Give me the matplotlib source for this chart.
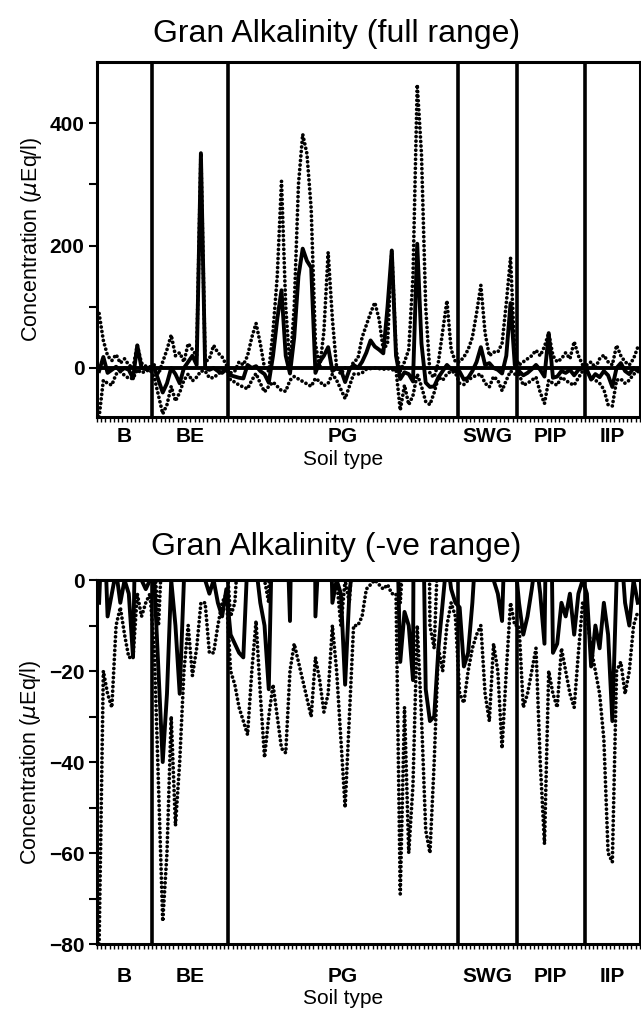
import numpy as np
import matplotlib
matplotlib.use("Agg")
import matplotlib.pyplot as plt
from matplotlib.transforms import blended_transform_factory

plt.rcParams["font.family"] = ["Liberation Sans", "DejaVu Sans"]

# Bodentypen
soil_types = ["B", "BE", "PG", "SWG", "PIP", "IIP"]

# Werte je Standort (uEq/l)
upper_B = [89, 45, 20, 12, 22, 8, 15, 5, 0, 37, 8, 3, 2]
mid_B = [-5, 18, -8, -3, 2, -5, 0, -3, -17, 37, 0, -2, 0]
lower_B = [-80, -20, -25, -28, -10, -6, -12, -17, -17, -3, -8, -5, -3]

upper_BE = [5, -10, 10, 30, 54, 20, 25, 10, 40, 30, 20, 351, 10, 15, 37, 25, 18, 5]
mid_BE = [0, -20, -40, -25, 0, -10, -25, 0, 10, 20, 5, 351, 0, -3, 0, -5, -8, -2]
lower_BE = [-15, -45, -75, -60, -30, -54, -40, -20, -10, -21, -15, -5, -5, -16, -16, -10, -5, -3]

upper_PG = [-8, -5, 10, 5, 20, 50, 73, 40, 0, -5, 60, 150, 305, 100, 0, 100, 300, 382,
            350, 260, 40, 0, 60, 189, 80, 0, -10, 0, -5, 10, 15, 50, 70, 90, 107, 80,
            30, 40, 192, 30, -5, 10, 30, 150, 463, 350, 100, -10, -15, 10, 60, 110, 30, 10]
mid_PG = [-12, -14, -16, -17, 5, 0, 3, -5, -10, -24, 20, 80, 127, 20, -9, 50, 150, 195,
          175, 164, -8, 10, 20, 34, -5, 0, -3, -23, -3, 5, 0, 10, 25, 45, 35, 30,
          24, 100, 192, 20, -18, -7, -10, -22, 203, 40, -24, -31, -30, -15, -5, 5, -2, -5]
lower_PG = [-20, -23, -28, -31, -34, -20, -9, -25, -39, -30, -23, -30, -37, -38, -20, -14, -18, -22,
            -26, -30, -17, -22, -29, -25, -10, -20, -35, -50, -30, -10, -10, -8, -2, -1, 0, -1,
            -2, -1, -3, -3, -69, -28, -60, -45, -10, -30, -55, -60, -40, -15, -20, -10, -5, -8]

upper_SWG = [10, 18, 30, 50, 90, 135, 57, 20, 26, 26, 40, 106, 180, 20]
mid_SWG = [-6, -19, -16, -5, 10, 34, 5, 8, 0, -3, -9, 20, 106, 5]
lower_SWG = [-25, -27, -20, -15, -12, -10, -25, -31, -14, -20, -37, -20, -5, -10]

upper_PIP = [5, 10, 15, 20, 29, 20, 35, 57, 20, 10, 15, 25, 15, 43, 20, 5]
mid_PIP = [-5, -12, -8, -2, 5, -3, -14, 57, -16, -14, -5, -8, -3, -12, -3, 0]
lower_PIP = [-10, -28, -25, -20, -15, -40, -58, -20, -25, -28, -15, -20, -25, -28, -16, -5]

upper_IIP = [5, 10, 0, 15, 21, 10, 5, 37, 20, 10, 5, 15, 34]
mid_IIP = [-3, -19, -10, -15, -5, -12, -31, 0, 8, -5, -10, 0, -5]
lower_IIP = [-8, -15, -20, -25, -35, -60, -62, -20, -18, -25, -20, -10, -7]

upper = upper_B + upper_BE + upper_PG + upper_SWG + upper_PIP + upper_IIP
mid = mid_B + mid_BE + mid_PG + mid_SWG + mid_PIP + mid_IIP
lower = lower_B + lower_BE + lower_PG + lower_SWG + lower_PIP + lower_IIP
group_sizes = [len(upper_B), len(upper_BE), len(upper_PG),
               len(upper_SWG), len(upper_PIP), len(upper_IIP)]

n = len(upper)
x = np.arange(n) + 0.5
bounds = np.cumsum([0] + group_sizes)
centers = (bounds[:-1] + bounds[1:]) / 2

DOT = dict(color="black", lw=2.7, linestyle=(0, (0.01, 1.2)),
           dash_capstyle="round")


def draw_panel(ax, ylim, major, minor, title, title_y, lab_y, soil_y):
    ax.plot(x, upper, **DOT)
    ax.plot(x, lower, **DOT)
    ax.plot(x, mid, color="black", lw=2.8)
    for b in bounds[1:-1]:
        ax.axvline(b, color="black", lw=2.6)
    ax.axhline(0, color="black", lw=2.8)
    ax.set_xlim(0, n)
    ax.set_ylim(*ylim)
    ax.set_yticks(major)
    ax.set_yticks(minor, minor=True)
    ax.set_xticks([])
    ax.set_xticks(np.arange(n + 1), minor=True)
    ax.tick_params(axis="x", which="minor", length=3.5, width=1.0, direction="out")
    ax.tick_params(axis="y", which="both", length=6, width=1.5, direction="out",
                   labelsize=15, pad=3)
    for lab in ax.get_yticklabels():
        lab.set_fontweight("bold")
    for s in ax.spines.values():
        s.set_linewidth(2.2)
    ax.set_ylabel(r"Concentration ($\mu$Eq/l)", fontsize=15.5, labelpad=4)
    trans = blended_transform_factory(ax.transData, ax.transAxes)
    for c, name in zip(centers, soil_types):
        ax.text(c, lab_y, name, transform=trans, ha="center", va="center",
                fontsize=15, fontweight="bold")
    ax.text(centers[2], soil_y, "Soil type", transform=trans, ha="center",
            va="center", fontsize=15)
    ax.figure.text(0.525, title_y, title, ha="center", va="center", fontsize=23)


fig = plt.figure(figsize=(6.41, 10.13), dpi=100)
ax1 = fig.add_axes([0.1513, 0.5884, 0.847, 0.3504])
ax2 = fig.add_axes([0.1513, 0.0681, 0.847, 0.3593])

draw_panel(ax1, (-80, 500), [0, 200, 400], [100, 300], "Gran Alkalinity (full range)",
           0.966, -0.055, -0.12)
draw_panel(ax2, (-80, 0), [-80, -60, -40, -20, 0], np.arange(-80, 1, 10),
           "Gran Alkalinity (-ve range)", 0.46, -0.09, -0.15)

fig.savefig("out.png", dpi=100)
